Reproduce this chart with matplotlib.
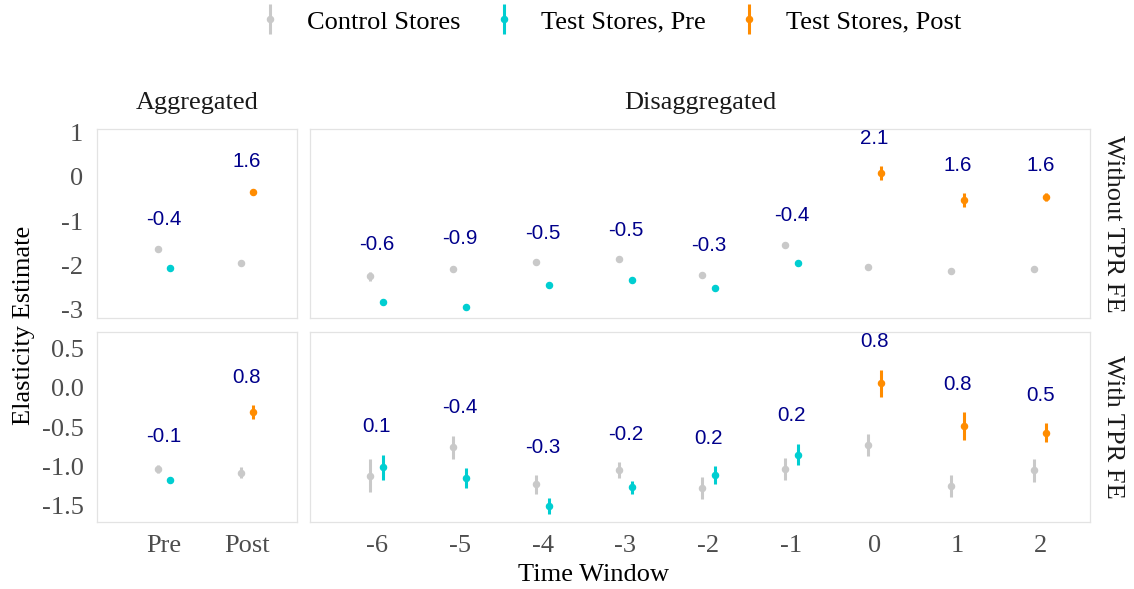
import numpy as np
import matplotlib
matplotlib.use("Agg")
import matplotlib.pyplot as plt
from matplotlib.lines import Line2D

plt.rcParams['font.family'] = ['Liberation Serif', 'DejaVu Serif']

# --- data -------------------------------------------------------------
phases = ['Pre', 'Post']
windows = [-6, -5, -4, -3, -2, -1, 0, 1, 2]

# aggregated, without TPR FE
agg_ctrl_nofe = [-1.63, -1.95]
agg_ctrl_nofe_ci = [0.03, 0.03]
agg_test_nofe = [-2.06, -0.33]
agg_test_nofe_ci = [0.03, 0.04]

# aggregated, with TPR FE
agg_ctrl_fe = [-1.03, -1.08]
agg_ctrl_fe_ci = [0.05, 0.075]
agg_test_fe = [-1.17, -0.31]
agg_test_fe_ci = [0.03, 0.09]

# disaggregated, without TPR FE
dis_ctrl_nofe = [-2.26, -2.08, -1.94, -1.87, -2.23, -1.54, -2.05, -2.14, -2.09]
dis_ctrl_nofe_ci = [0.10, 0.05, 0.03, 0.03, 0.04, 0.04, 0.03, 0.03, 0.04]
dis_test_nofe = [-2.85, -2.96, -2.46, -2.35, -2.52, -1.95, 0.09, -0.52, -0.46]
dis_test_nofe_ci = [0.03, 0.03, 0.03, 0.03, 0.03, 0.03, 0.15, 0.16, 0.09]

# disaggregated, with TPR FE
dis_ctrl_fe = [-1.12, -0.76, -1.23, -1.05, -1.28, -1.04, -0.73, -1.25, -1.05]
dis_ctrl_fe_ci = [0.21, 0.15, 0.12, 0.10, 0.14, 0.14, 0.145, 0.14, 0.145]
dis_test_fe = [-1.01, -1.15, -1.51, -1.27, -1.11, -0.85, 0.06, -0.49, -0.57]
dis_test_fe_ci = [0.16, 0.13, 0.10, 0.08, 0.11, 0.14, 0.175, 0.18, 0.12]

top_ticks = [1, 0, -1, -2, -3]
bottom_ticks = [0.5, 0.0, -0.5, -1.0, -1.5]

C_CTRL = '#c9c9c9'
C_PRE = '#00ced1'
C_POST = '#ff8c00'
C_LAB = '#00008b'
C_TICK = '#4d4d4d'
FS = 19

W, H = 1134, 589
fig = plt.figure(figsize=(W / 100, H / 100), dpi=100)


def px_axes(x0, y0, x1, y1):
    return fig.add_axes([x0 / W, 1 - y1 / H, (x1 - x0) / W, (y1 - y0) / H])


def pointrange(ax, x, y, ci, color):
    ax.errorbar(x, y, yerr=ci, fmt='o', color=color, ms=4.4, elinewidth=2.2,
                capsize=0, zorder=3)


def draw_panel(ax, xs, ctrl, ctrl_ci, test, test_ci, test_cols, ylim, yticks,
               ylabels, xlim, xticklabels, show_y, show_x):
    xs = np.asarray(xs, dtype=float)
    dodge = 0.075
    for i, x in enumerate(xs):
        pointrange(ax, x - dodge, ctrl[i], ctrl_ci[i], C_CTRL)
        pointrange(ax, x + dodge, test[i], test_ci[i], test_cols[i])
        # difference test - control, written above the pair
        top = max(ctrl[i] + ctrl_ci[i], test[i] + test_ci[i])
        diff = test[i] - ctrl[i]
        ax.annotate(f"{diff:.1f}", (x, top), xytext=(0, 20),
                    textcoords='offset points', ha='center', va='center',
                    color=C_LAB, fontsize=14.8, family='Liberation Sans')
    ax.set_xlim(*xlim)
    ax.set_ylim(*ylim)
    ax.set_yticks(yticks)
    ax.set_xticks(xs)
    if show_y:
        ax.set_yticklabels(ylabels)
    else:
        ax.set_yticklabels([])
    if show_x:
        ax.set_xticklabels(xticklabels)
    else:
        ax.set_xticklabels([])
    ax.tick_params(length=0, labelsize=FS, labelcolor=C_TICK)
    ax.tick_params(axis='y', pad=10)
    ax.tick_params(axis='x', pad=9)
    for s in ax.spines.values():
        s.set_color('#e3e3e3')
        s.set_linewidth(0.9)


agg_x = [1, 2]
agg_cols = [C_PRE, C_POST]
dis_cols = [C_PRE if w < 0 else C_POST for w in windows]

top_ylim = (-3.21, 1.09)
bot_ylim = (-1.715, 0.71)
top_lab = [f"{t:d}" for t in top_ticks]
bot_lab = [f"{t:.1f}" for t in bottom_ticks]

ax = px_axes(97.3, 129, 296.7, 318.3)
draw_panel(ax, agg_x, agg_ctrl_nofe, agg_ctrl_nofe_ci, agg_test_nofe,
           agg_test_nofe_ci, agg_cols, top_ylim, top_ticks, top_lab,
           (0.2, 2.6), phases, True, False)

ax = px_axes(310.3, 129, 1090, 318.3)
draw_panel(ax, windows, dis_ctrl_nofe, dis_ctrl_nofe_ci, dis_test_nofe,
           dis_test_nofe_ci, dis_cols, top_ylim, top_ticks, top_lab,
           (windows[0] - 0.8, windows[-1] + 0.6), [str(w) for w in windows],
           False, False)

ax = px_axes(97.3, 332.3, 296.7, 522.3)
draw_panel(ax, agg_x, agg_ctrl_fe, agg_ctrl_fe_ci, agg_test_fe,
           agg_test_fe_ci, agg_cols, bot_ylim, bottom_ticks, bot_lab,
           (0.2, 2.6), phases, True, True)

ax = px_axes(310.3, 332.3, 1090, 522.3)
draw_panel(ax, windows, dis_ctrl_fe, dis_ctrl_fe_ci, dis_test_fe,
           dis_test_fe_ci, dis_cols, bot_ylim, bottom_ticks, bot_lab,
           (windows[0] - 0.8, windows[-1] + 0.6), [str(w) for w in windows],
           False, True)

# strip labels
fig.text(197 / W, 1 - 103 / H, 'Aggregated', ha='center', va='center',
         fontsize=FS, color='#1a1a1a')
fig.text(700 / W, 1 - 103 / H, 'Disaggregated', ha='center', va='center',
         fontsize=FS, color='#1a1a1a')
fig.text(1113 / W, 1 - 223.6 / H, 'Without TPR FE', ha='center', va='center',
         rotation=-90, fontsize=FS, color='#1a1a1a')
fig.text(1113 / W, 1 - 427.3 / H, 'With TPR FE', ha='center', va='center',
         rotation=-90, fontsize=FS, color='#1a1a1a')

# axis titles
fig.text(24 / W, 1 - 325.6 / H, 'Elasticity Estimate', ha='center',
         va='center', rotation=90, fontsize=FS)
fig.text(593.6 / W, 1 - 575 / H, 'Time Window', ha='center', va='center',
         fontsize=FS)


# legend: vertical range line with a dot on top
def key(color):
    return (Line2D([], [], marker='|', ms=22, mew=2.2, color=color, ls='none'),
            Line2D([], [], marker='o', ms=4.4, color=color, ls='none'))


handles = [key(C_CTRL), key(C_PRE), key(C_POST)]
labels = ['Control Stores', 'Test Stores, Pre', 'Test Stores, Post']
fig.legend(handles, labels, loc='center', bbox_to_anchor=(609 / W, 1 - 22 / H),
           ncol=3, frameon=False, fontsize=FS, handlelength=1.0,
           handletextpad=0.9, columnspacing=1.15)

fig.savefig('out.png', dpi=100)
